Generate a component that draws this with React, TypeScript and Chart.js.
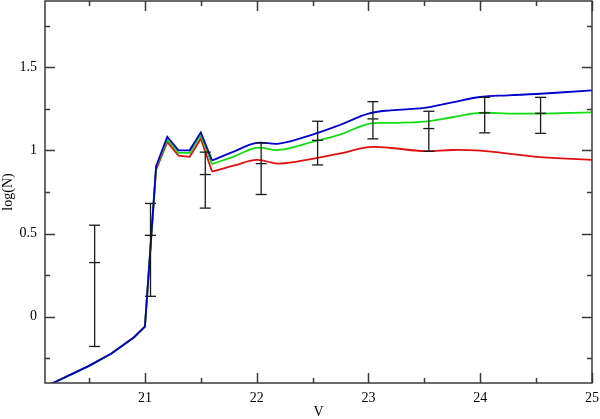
import React, { useEffect, useRef } from "react";
import { Chart, registerables } from "chart.js";

Chart.register(...registerables);

// ---- data ----
const X_LOW = [20.1, 20.5, 20.7, 20.9, 21.0, 21.1, 21.2, 21.3, 21.4, 21.5, 21.6];
const BLUE_LOW = [-0.425, -0.297, -0.222, -0.126, -0.06, 0.905, 1.083, 1.001, 1.001, 1.109, 0.94];
const GREEN_LOW = [-0.425, -0.297, -0.222, -0.126, -0.06, 0.9, 1.066, 0.986, 0.986, 1.091, 0.918];
const RED_LOW = [-0.425, -0.297, -0.222, -0.126, -0.06, 0.885, 1.052, 0.969, 0.962, 1.071, 0.873];

const X_SMOOTH = [21.6, 21.8, 22.0, 22.2, 22.5, 22.75, 23.0, 23.2, 23.5, 23.75, 24.0, 24.25, 24.5, 25.0];
const BLUE_SMOOTH = [0.94, 0.995, 1.046, 1.041, 1.096, 1.155, 1.222, 1.242, 1.256, 1.29, 1.322, 1.332, 1.34, 1.362];
const GREEN_SMOOTH = [0.918, 0.965, 1.016, 1.003, 1.052, 1.097, 1.16, 1.166, 1.174, 1.2, 1.226, 1.222, 1.222, 1.23];
const RED_SMOOTH = [0.873, 0.91, 0.943, 0.921, 0.95, 0.982, 1.02, 1.015, 0.996, 1.003, 0.999, 0.981, 0.962, 0.943];

const EB_X = [20.55, 21.05, 21.54, 22.04, 22.545, 23.04, 23.54, 24.04, 24.54];
const EB_Y = [0.325, 0.489, 0.855, 0.921, 1.061, 1.19, 1.132, 1.226, 1.224];
const EB_LO = [-0.18, 0.122, 0.653, 0.735, 0.913, 1.07, 0.995, 1.106, 1.103];
const EB_HI = [0.55, 0.681, 0.99, 1.045, 1.176, 1.294, 1.236, 1.32, 1.32];

const X_MAJOR = [21, 22, 23, 24, 25];
const X_MINOR = [20.5, 21.5, 22.5, 23.5, 24.5];
const Y_MAJOR = [0, 0.5, 1, 1.5];
const Y_MINOR = [-0.25, 0.25, 0.75, 1.25, 1.75];

const X_MIN = 20.106;
const X_MAX = 25;
const Y_MIN = -0.4;
const Y_MAX = 1.9;

const BLUE = "#0000cc";
const GREEN = "#11dd11";
const RED = "#e01010";
const BAR = "#1a1a1a";
const AXIS = "#3a3a3a";
const FONT = "'Liberation Serif', 'DejaVu Serif', serif";

const pts = (xs: number[], ys: number[]) => xs.map((x, i) => ({ x, y: ys[i] }));

const framePlugin = {
  id: "frame",
  afterDatasetsDraw(chart: any) {
    const { ctx, chartArea: a, scales } = chart;
    const xs = scales.x;
    const ys = scales.y;
    ctx.save();
    ctx.strokeStyle = AXIS;
    ctx.lineWidth = 1.5;
    ctx.strokeRect(a.left, a.top, a.right - a.left, a.bottom - a.top);
    ctx.beginPath();
    const xt = (vals: number[], len: number) => {
      vals.forEach((v) => {
        const px = Math.round(xs.getPixelForValue(v)) + 0.5;
        ctx.moveTo(px, a.bottom);
        ctx.lineTo(px, a.bottom - len);
        ctx.moveTo(px, a.top);
        ctx.lineTo(px, a.top + len);
      });
    };
    const yt = (vals: number[], len: number) => {
      vals.forEach((v) => {
        const py = Math.round(ys.getPixelForValue(v)) + 0.5;
        ctx.moveTo(a.left, py);
        ctx.lineTo(a.left + len, py);
        ctx.moveTo(a.right, py);
        ctx.lineTo(a.right - len, py);
      });
    };
    xt(X_MAJOR, 10);
    xt(X_MINOR, 5);
    yt(Y_MAJOR, 10);
    yt(Y_MINOR, 5);
    ctx.stroke();
    ctx.restore();
  },
};

export default function App() {
  const ref = useRef<HTMLCanvasElement | null>(null);

  useEffect(() => {
    if (!ref.current) return;
    const curve = (data: any[], color: string, tension: number, order: number) => ({
      type: "line" as const,
      data,
      borderColor: color,
      backgroundColor: color,
      borderWidth: 1.8,
      pointRadius: 0,
      tension,
      fill: false,
      order,
    });

    const barSets = EB_X.map((x, i) => ({
      type: "line" as const,
      data: [
        { x, y: EB_LO[i] },
        { x, y: EB_HI[i] },
      ],
      borderColor: BAR,
      backgroundColor: BAR,
      borderWidth: 1.3,
      pointStyle: "line" as const,
      pointRadius: 5.5,
      pointBorderWidth: 1.3,
      pointBorderColor: BAR,
      showLine: true,
      order: 0,
    }));

    const centers = {
      type: "line" as const,
      data: pts(EB_X, EB_Y),
      borderColor: BAR,
      backgroundColor: BAR,
      showLine: false,
      pointStyle: "line" as const,
      pointRadius: 5.5,
      pointBorderWidth: 1.3,
      pointBorderColor: BAR,
      order: 0,
    };

    const chart = new Chart(ref.current, {
      type: "line",
      data: {
        datasets: [
          ...barSets,
          centers,
          curve(pts(X_LOW, BLUE_LOW), BLUE, 0, 1),
          curve(pts(X_SMOOTH, BLUE_SMOOTH), BLUE, 0.4, 1),
          curve(pts(X_LOW, GREEN_LOW), GREEN, 0, 2),
          curve(pts(X_SMOOTH, GREEN_SMOOTH), GREEN, 0.4, 2),
          curve(pts(X_LOW, RED_LOW), RED, 0, 3),
          curve(pts(X_SMOOTH, RED_SMOOTH), RED, 0.4, 3),
        ] as any,
      },
      options: {
        animation: false,
        responsive: false,
        parsing: false as any,
        normalized: true,
        layout: { autoPadding: false, padding: { top: 1, right: 8, left: 0, bottom: 0 } },
        plugins: {
          legend: { display: false },
          tooltip: { enabled: false },
        },
        scales: {
          x: {
            type: "linear",
            min: X_MIN,
            max: X_MAX,
            grid: { display: false, drawTicks: false, tickLength: 0 },
            border: { display: false },
            afterBuildTicks: (s: any) => {
              s.ticks = X_MAJOR.map((v) => ({ value: v }));
            },
            afterFit: (s: any) => {
              s.height = 36;
              s.paddingLeft = 0;
              s.paddingRight = 0;
            },
            ticks: {
              color: "#000",
              padding: 7,
              maxRotation: 0,
              autoSkip: false,
              font: { family: FONT, size: 14 },
              callback: (v: any) => String(v),
            },
            title: {
              display: true,
              text: "V",
              color: "#000",
              padding: { top: 0, bottom: -2 },
              font: { family: FONT, size: 14 },
            },
          },
          y: {
            type: "linear",
            min: Y_MIN,
            max: Y_MAX,
            grid: { display: false, drawTicks: false, tickLength: 0 },
            border: { display: false },
            afterBuildTicks: (s: any) => {
              s.ticks = Y_MAJOR.map((v) => ({ value: v }));
            },
            afterFit: (s: any) => {
              s.width = 45;
              s.paddingTop = 0;
              s.paddingBottom = 0;
            },
            ticks: {
              color: "#000",
              padding: 8,
              autoSkip: false,
              font: { family: FONT, size: 14 },
              callback: (v: any) => String(v),
            },
            title: {
              display: true,
              text: "log(N)",
              color: "#000",
              padding: { top: 0, bottom: 0 },
              font: { family: FONT, size: 14 },
            },
          },
        },
      },
      plugins: [framePlugin],
    });
    return () => chart.destroy();
  }, []);

  return (
    <div style={{ position: "fixed", left: 0, top: 0, width: 600, height: 419, background: "#fff" }}>
      <canvas ref={ref} width={600} height={419} />
    </div>
  );
}
